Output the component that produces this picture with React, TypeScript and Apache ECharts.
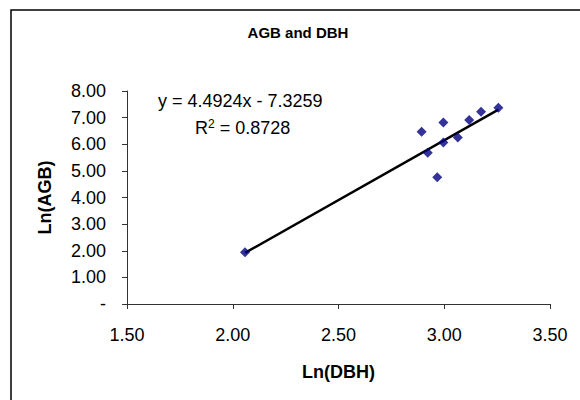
import React, { useEffect, useRef } from "react";
import * as echarts from "echarts";

const lnDBH = [2.058, 2.893, 2.922, 2.967, 2.996, 2.996, 3.064, 3.118, 3.174, 3.256];
const lnAGB = [1.94, 6.47, 5.68, 4.76, 6.82, 6.07, 6.25, 6.91, 7.22, 7.37];
const slope = 4.4924;
const intercept = -7.3259;
const r2 = 0.8728;
const xTicks = [1.5, 2.0, 2.5, 3.0, 3.5];
const yTicks = [0, 1, 2, 3, 4, 5, 6, 7, 8];

export default function App() {
  const ref = useRef<HTMLDivElement>(null);
  useEffect(() => {
    if (!ref.current) return;
    const chart = echarts.init(ref.current, null, { renderer: "svg" });
    const xMin = Math.min(...lnDBH);
    const xMax = Math.max(...lnDBH);
    const trend = [
      [xMin, slope * xMin + intercept],
      [xMax, slope * xMax + intercept],
    ];
    const font = "'Liberation Sans', Arial, sans-serif";
    chart.setOption({
      animation: false,
      backgroundColor: "#fff",
      textStyle: { fontFamily: font },
      title: {
        text: "AGB and DBH",
        left: 298,
        textAlign: "center",
        top: 25,
        padding: 0,
        textStyle: { fontSize: 15, fontWeight: "bold", color: "#000", fontFamily: font },
      },
      grid: { left: 127, right: 30, top: 91, bottom: 96 },
      xAxis: {
        type: "value",
        min: xTicks[0],
        max: xTicks[xTicks.length - 1],
        interval: 0.5,
        name: "Ln(DBH)",
        nameLocation: "middle",
        nameGap: 59,
        nameTextStyle: { fontSize: 18, fontWeight: "bold", color: "#000", fontFamily: font },
        axisLine: { lineStyle: { color: "#333", width: 1 } },
        axisTick: { show: true, length: 5, lineStyle: { color: "#333" } },
        axisLabel: {
          fontSize: 18,
          color: "#000",
          margin: 22,
          fontFamily: font,
          formatter: (v: number) => v.toFixed(2),
        },
        splitLine: { show: false },
      },
      yAxis: {
        type: "value",
        min: yTicks[0],
        max: yTicks[yTicks.length - 1],
        interval: 1,
        name: "Ln(AGB)",
        nameLocation: "middle",
        nameGap: 73,
        nameRotate: 90,
        nameTextStyle: { fontSize: 18, fontWeight: "bold", color: "#000", fontFamily: font },
        axisLine: { show: true, lineStyle: { color: "#333", width: 1 } },
        axisTick: { show: true, length: 5, lineStyle: { color: "#333" } },
        axisLabel: {
          fontSize: 18,
          color: "#000",
          margin: 21,
          fontFamily: font,
          formatter: (v: number) => (v === 0 ? "-" : v.toFixed(2)),
        },
        splitLine: { show: false },
      },
      graphic: [
        {
          type: "rect",
          shape: { x: 11, y: 10, width: 620, height: 420 },
          style: { fill: "none", stroke: "#000", lineWidth: 1.5 },
          silent: true,
          z: -1,
        },
        {
          type: "text",
          x: 158,
          y: 101,
          style: {
            text: `y = ${slope}x - ${Math.abs(intercept)}`,
            fontSize: 18,
            fontFamily: font,
            fill: "#000",
            verticalAlign: "middle",
          },
        },
        {
          type: "text",
          x: 195,
          y: 128,
          style: {
            text: `{n|R}{s|2}{n| = ${r2}}`,
            fontFamily: font,
            fill: "#000",
            verticalAlign: "middle",
            rich: {
              n: { fontSize: 18, fontFamily: font, fill: "#000" },
              s: { fontSize: 12, fontFamily: font, fill: "#000", verticalAlign: "top", padding: [0, 0, 8, 0] },
            },
          },
        },
      ],
      series: [
        {
          type: "line",
          data: trend,
          showSymbol: false,
          symbol: "none",
          lineStyle: { color: "#000", width: 2.5 },
          z: 1,
        },
        {
          type: "scatter",
          data: lnDBH.map((x, i) => [x, lnAGB[i]]),
          symbol: "diamond",
          symbolSize: 10,
          itemStyle: { color: "#000080" },
          z: 3,
        },
      ],
    });
    return () => chart.dispose();
  }, []);
  return <div ref={ref} style={{ width: 580, height: 400, position: "absolute", left: 0, top: 0 }} />;
}
